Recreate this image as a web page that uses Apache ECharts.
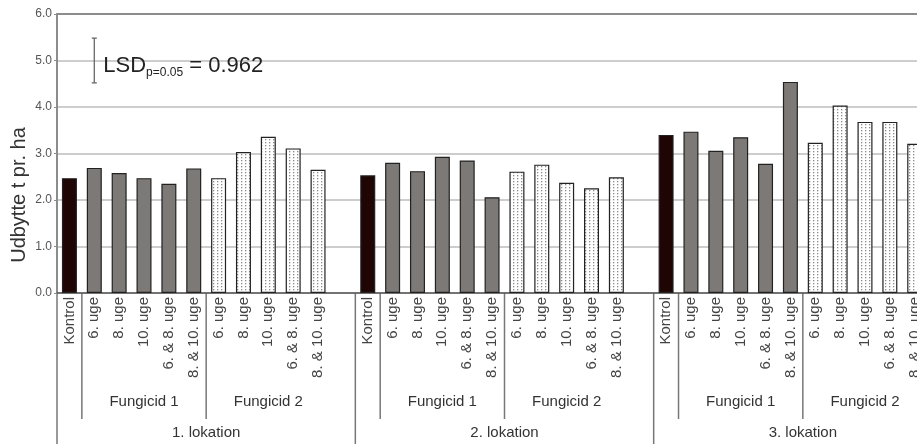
<!DOCTYPE html>
<html>
<head>
<meta charset="utf-8">
<script src="https://cdn.jsdelivr.net/npm/echarts@6/dist/echarts.min.js"></script>
<style>
  html, body { margin: 0; padding: 0; background: #fff; }
  #chart { width: 917px; height: 444px; }
</style>
</head>
<body>
<div id="chart"></div>
<script>
// data
const locations = ['1. lokation', '2. lokation', '3. lokation'];
const groups = ['Fungicid 1', 'Fungicid 2'];
const treatments = ['6. uge', '8. uge', '10. uge', '6. & 8. uge', '8. & 10. uge'];
const kontrol = [2.47, 2.53, 3.40];
const fungicid1 = [
  [2.69, 2.58, 2.47, 2.35, 2.68],
  [2.80, 2.62, 2.93, 2.85, 2.06],
  [3.47, 3.06, 3.35, 2.78, 4.54]
];
const fungicid2 = [
  [2.47, 3.03, 3.36, 3.11, 2.65],
  [2.61, 2.76, 2.37, 2.25, 2.49],
  [3.23, 4.03, 3.68, 3.68, 3.21]
];
const lsd = 0.962;
const lsdCenter = 5.0;
const yTicks = [0, 1, 2, 3, 4, 5, 6];

// *build the 12 slots per location (kontrol, 5 + 5 treatments, empty gap)
const categories = [];
const kontrolData = [];
const f1Data = [];
const f2Data = [];
locations.forEach((loc, l) => {
  categories.push('Kontrol');
  kontrolData.push(kontrol[l]); f1Data.push('-'); f2Data.push('-');
  treatments.forEach((t, i) => {
    categories.push(t);
    kontrolData.push('-'); f1Data.push(fungicid1[l][i]); f2Data.push('-');
  });
  treatments.forEach((t, i) => {
    categories.push(t);
    kontrolData.push('-'); f1Data.push('-'); f2Data.push(fungicid2[l][i]);
  });
  categories.push('');
  kontrolData.push('-'); f1Data.push('-'); f2Data.push('-');
});

// dotted fill for Fungicid 2
const dots = document.createElement('canvas');
dots.width = 4; dots.height = 3;
{
  const ctx = dots.getContext('2d');
  ctx.fillStyle = '#fff';
  ctx.fillRect(0, 0, 4, 3);
  ctx.fillStyle = '#8a8a8a';
  ctx.fillRect(1, 1, 1.3, 1.3);
}

const font = 'Liberation Sans, Arial, sans-serif';
const chart = echarts.init(document.querySelector('#chart'));
const barBorder = { borderColor: '#222', borderWidth: 1.2 };

const option = {
  animation: false,
  grid: { left: 57, top: 14, right: -35, bottom: 151, outerBoundsMode: 'none' },
  xAxis: [
    {
      type: 'category',
      data: categories,
      axisLine: { lineStyle: { color: '#555', width: 1.5 } },
      axisTick: { show: false },
      axisLabel: {
        interval: 0, rotate: 90, margin: 4,
        fontSize: 15, color: '#444', fontFamily: font
      }
    },
    {
      type: 'category',
      position: 'top',
      data: categories,
      axisLine: { lineStyle: { color: '#8c8c8c', width: 2 } },
      axisTick: { show: false },
      axisLabel: { show: false }
    }
  ],
  yAxis: {
    type: 'value',
    min: yTicks[0], max: yTicks[yTicks.length - 1], interval: 1,
    axisLine: { show: true, lineStyle: { color: '#8c8c8c', width: 2 } },
    axisTick: { show: true, length: 3, lineStyle: { color: '#8c8c8c' } },
    axisLabel: {
      formatter: v => v.toFixed(1), fontSize: 12, color: '#555',
      margin: 5, fontFamily: font
    },
    splitLine: { lineStyle: { color: '#bdbdbd', width: 1.5 } }
  },
  series: [
    {
      type: 'bar', stack: 'all', barWidth: 15, data: kontrolData,
      itemStyle: Object.assign({ color: '#200505' }, barBorder)
    },
    {
      type: 'bar', stack: 'all', barWidth: 15, data: f1Data,
      itemStyle: Object.assign({ color: '#7d7976' }, barBorder)
    },
    {
      type: 'bar', stack: 'all', barWidth: 15, data: f2Data,
      itemStyle: Object.assign({ color: { image: dots, repeat: 'repeat' } }, barBorder)
    },
    {
      // LSD error bar
      type: 'custom',
      data: [[1, lsdCenter, lsd]],
      z: 5,
      renderItem: (params, api) => {
        const x = api.coord([api.value(0), api.value(1)])[0];
        const yTop = api.coord([api.value(0), api.value(1) + api.value(2) / 2])[1];
        const yBot = api.coord([api.value(0), api.value(1) - api.value(2) / 2])[1];
        const yMid = api.coord([api.value(0), api.value(1)])[1];
        const ls = { stroke: '#666', lineWidth: 1.3 };
        return {
          type: 'group',
          children: [
            { type: 'line', shape: { x1: x, y1: yTop, x2: x, y2: yBot }, style: ls },
            { type: 'line', shape: { x1: x - 2.5, y1: yTop, x2: x + 2.5, y2: yTop }, style: ls },
            { type: 'line', shape: { x1: x - 2.5, y1: yBot, x2: x + 2.5, y2: yBot }, style: ls },
            {
              type: 'text', x: x + 9, y: yMid + 5,
              style: {
                text: '{a|LSD}{b|p=0.05}{a| = ' + lsd.toFixed(3) + '}',
                verticalAlign: 'middle',
                rich: {
                  a: { fontSize: 22, fill: '#222', fontFamily: font, lineHeight: 26, verticalAlign: 'middle' },
                  b: { fontSize: 12, fill: '#222', fontFamily: font, lineHeight: 12, verticalAlign: 'bottom' }
                }
              }
            }
          ]
        };
      }
    }
  ]
};
chart.setOption(option);

// *group separators and group labels under the axis
{
  const xAt = i => chart.convertToPixel({ xAxisIndex: 0 }, i);
  const slot = xAt(1) - xAt(0);
  const edge = i => xAt(i) - slot / 2;
  const y0 = chart.convertToPixel({ yAxisIndex: 0 }, 0);
  const H = chart.getHeight();
  const lineStyle = { stroke: '#777', lineWidth: 1.5 };
  const textStyle = { fontSize: 15, fill: '#333', fontFamily: font, align: 'center', verticalAlign: 'middle' };
  const elements = [];
  locations.forEach((loc, l) => {
    const s = l * 12;
    elements.push({ type: 'line', shape: { x1: edge(s), y1: y0, x2: edge(s), y2: H }, style: lineStyle });
    elements.push({ type: 'line', shape: { x1: edge(s + 1), y1: y0, x2: edge(s + 1), y2: 419 }, style: lineStyle });
    elements.push({ type: 'line', shape: { x1: edge(s + 6), y1: y0, x2: edge(s + 6), y2: 419 }, style: lineStyle });
    groups.forEach((g, k) => {
      const a = edge(s + 1 + k * 5), b = edge(s + 6 + k * 5);
      elements.push({ type: 'text', x: (a + b) / 2, y: 402, style: Object.assign({ text: g }, textStyle) });
    });
    elements.push({
      type: 'text', x: (edge(s) + edge(s + 12)) / 2, y: 433,
      style: Object.assign({ text: loc }, textStyle)
    });
  });
  elements.push({
    type: 'text', x: 19, y: 195, rotation: Math.PI / 2,
    style: { text: 'Udbytte t pr. ha', fontSize: 20, fill: '#333', fontFamily: font, align: 'center', verticalAlign: 'middle' }
  });
  chart.setOption({ graphic: { elements } });
}
</script>
</body>
</html>
